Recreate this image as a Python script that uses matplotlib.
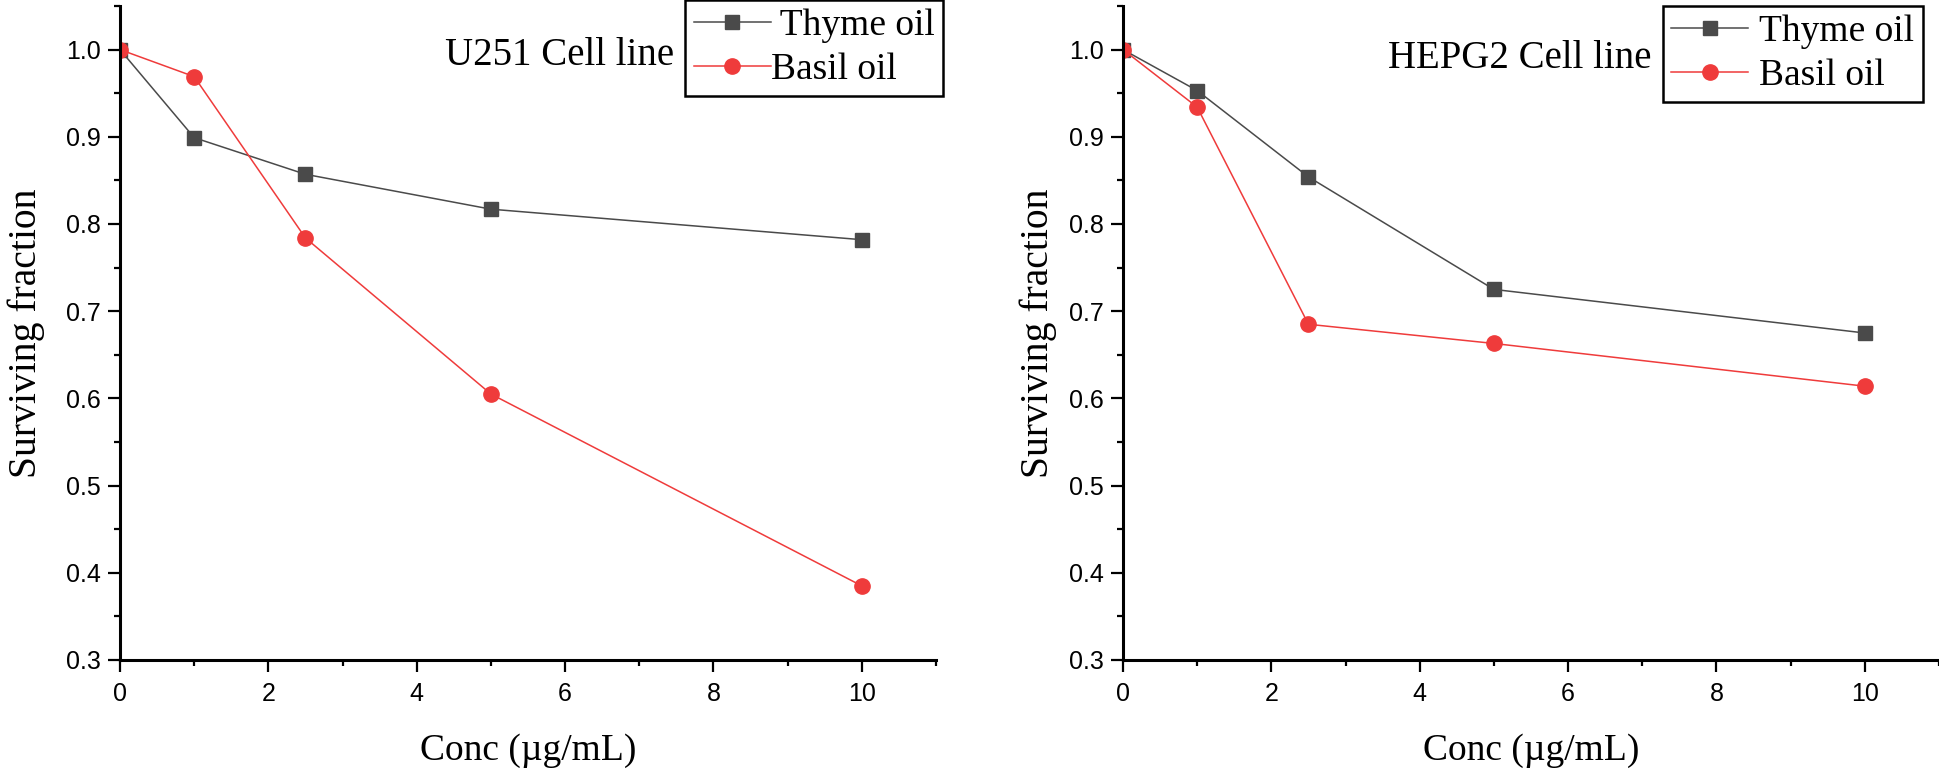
import matplotlib
matplotlib.use("Agg")
import matplotlib.pyplot as plt
from matplotlib.ticker import MultipleLocator, FormatStrFormatter

# data
conc = [0, 1, 2.5, 5, 10]
u251_thyme = [1.0, 0.899, 0.857, 0.817, 0.782]
u251_basil = [1.0, 0.969, 0.784, 0.605, 0.385]
hepg2_thyme = [1.0, 0.953, 0.854, 0.725, 0.675]
hepg2_basil = [1.0, 0.934, 0.685, 0.663, 0.614]
panel_titles = ["U251 Cell line", "HEPG2 Cell line"]
thyme_labels = [" Thyme oil", "Thyme oil"]
basil_label = "Basil oil"

SERIF = "Liberation Serif"
GREY = "#4a4a4a"
RED = "#ef3b3b"

plt.rcParams["font.family"] = "Liberation Sans"
plt.rcParams["xtick.labelsize"] = 18
plt.rcParams["ytick.labelsize"] = 18

W, H = 1940, 774
fig = plt.figure(figsize=(W / 100, H / 100), dpi=100)

# axes boxes in pixels: left, right, bottom (from top), top (from top)
boxes = [(120, 936, 660, 6), (1123, 1939, 660, 6)]
legend_corner = [(943, 0), (1923, 6)]      # upper-right corner of legend frame
legend_pad = [0.0, 0.3]
title_pos = [(560, 65), (1520, 68)]       # centre x, baseline y
ylabel_x = [-0.115, -0.104]

data = [(u251_thyme, u251_basil), (hepg2_thyme, hepg2_basil)]

for i, (l, r, b, t) in enumerate(boxes):
    ax = fig.add_axes([l / W, 1 - b / H, (r - l) / W, (b - t) / H])
    thyme, basil = data[i]
    ax.plot(conc, thyme, color=GREY, lw=1.1, marker="s", ms=10,
            mfc=GREY, mec=GREY, label=thyme_labels[i])
    ax.plot(conc, basil, color=RED, lw=1.1, marker="o", ms=11,
            mfc=RED, mec=RED, label=basil_label)

    ax.set_xlim(0, 11)
    ax.set_ylim(0.3, 1.05)
    ax.xaxis.set_major_locator(MultipleLocator(2))
    ax.xaxis.set_minor_locator(MultipleLocator(1))
    ax.yaxis.set_major_locator(MultipleLocator(0.1))
    ax.yaxis.set_minor_locator(MultipleLocator(0.05))
    ax.set_xticks([0, 2, 4, 6, 8, 10])
    ax.yaxis.set_major_formatter(FormatStrFormatter("%.1f"))

    for side in ("top", "right"):
        ax.spines[side].set_visible(False)
    for side in ("left", "bottom"):
        ax.spines[side].set_linewidth(2.2)
    ax.tick_params(which="major", length=8.6, width=1.6, direction="out",
                   labelsize=18)
    ax.tick_params(axis="x", which="major", pad=7)
    ax.tick_params(axis="y", which="major", pad=5.5)
    ax.tick_params(which="minor", length=4.3, width=1.6, direction="out")

    ax.set_xlabel("Conc (µg/mL)", fontsize=27, family=SERIF, va="center")
    ax.xaxis.set_label_coords(0.5, -0.139)
    ax.set_ylabel("Surviving fraction", fontsize=28.5, family=SERIF, va="center")
    ax.yaxis.set_label_coords(ylabel_x[i], 0.5)

    tx, ty = title_pos[i]
    fig.text(tx / W, 1 - ty / H, panel_titles[i], fontsize=28, family=SERIF,
             ha="center", va="baseline")

    lx, ly = legend_corner[i]
    leg = ax.legend(loc="upper right", bbox_to_anchor=(lx / W, 1 - ly / H),
                    bbox_transform=fig.transFigure, borderaxespad=0,
                    prop={"family": SERIF, "size": 27}, fancybox=False,
                    framealpha=1, edgecolor="black", handlelength=2.05,
                    handletextpad=legend_pad[i], borderpad=0.23,
                    labelspacing=0.25)
    leg.get_frame().set_linewidth(1.8)

fig.savefig("out.png", dpi=100)
